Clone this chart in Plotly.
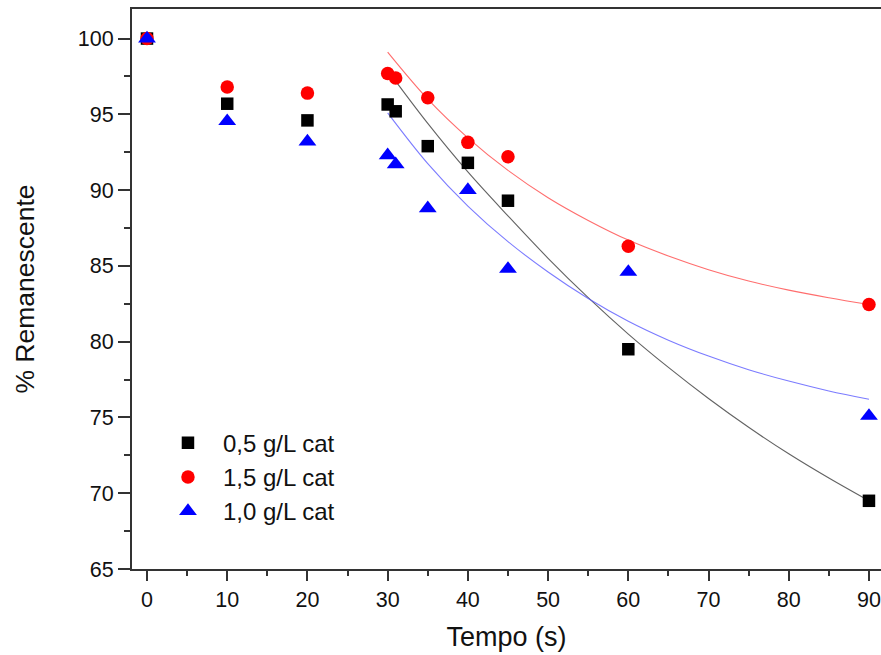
import plotly.graph_objects as go

# ---- data ----
tempo = [0, 10, 20, 30, 31, 35, 40, 45, 60, 90]
cat_05 = [100.0, 95.7, 94.6, 95.65, 95.2, 92.9, 91.8, 89.3, 79.5, 69.5]
cat_15 = [100.0, 96.8, 96.4, 97.7, 97.4, 96.1, 93.15, 92.2, 86.3, 82.45]
cat_10 = [100.0, 94.55, 93.2, 92.3, 91.7, 88.8, 90.0, 84.8, 84.6, 75.1]

# fitted decay curves (30..90 s)
fit_t = [30, 35, 40, 45, 50, 55, 60, 65, 70, 75, 80, 85, 90]
fit_05 = [97.9, 94.4, 91.2, 88.3, 85.5, 82.9, 80.5, 78.3, 76.25, 74.35, 72.6, 71.0, 69.5]
fit_15 = [99.1, 96.0, 93.45, 91.3, 89.5, 88.0, 86.7, 85.65, 84.75, 84.0, 83.4, 82.9, 82.45]
fit_10 = [95.1, 91.75, 88.95, 86.6, 84.6, 82.85, 81.35, 80.1, 79.05, 78.15, 77.4, 76.75, 76.2]

labels = ["0,5 g/L cat", "1,5 g/L cat", "1,0 g/L cat"]
FONT = "Liberation Sans, Arial, sans-serif"

fig = go.Figure()

# fit lines (behind markers)
fig.add_trace(go.Scatter(x=fit_t, y=fit_15, mode="lines", line=dict(color="rgba(255,60,60,0.75)", width=1.1, shape="spline"),
                         showlegend=False, hoverinfo="skip"))
fig.add_trace(go.Scatter(x=fit_t, y=fit_05, mode="lines", line=dict(color="rgba(70,70,70,0.85)", width=1.1, shape="spline"),
                         showlegend=False, hoverinfo="skip"))
fig.add_trace(go.Scatter(x=fit_t, y=fit_10, mode="lines", line=dict(color="rgba(90,90,255,0.8)", width=1.1, shape="spline"),
                         showlegend=False, hoverinfo="skip"))

# data markers
fig.add_trace(go.Scatter(x=tempo, y=cat_05, mode="markers", name=labels[0],
                         marker=dict(symbol="square", size=12.5, color="black")))
fig.add_trace(go.Scatter(x=tempo, y=cat_15, mode="markers", name=labels[1],
                         marker=dict(symbol="circle", size=13.5, color="#ff0000")))
fig.add_trace(go.Scatter(x=tempo, y=cat_10, mode="markers", name=labels[2],
                         marker=dict(symbol="triangle-up", size=15.5, color="#0000ff")))

fig.update_layout(
    width=881, height=655,
    margin=dict(l=132, r=0, t=9, b=86),
    paper_bgcolor="white", plot_bgcolor="white",
    font=dict(family=FONT, color="#111"),
    showlegend=True,
    legend=dict(x=0.028, y=0.265, xanchor="left", yanchor="top",
                bgcolor="rgba(0,0,0,0)", font=dict(size=24, family=FONT, color="#111"),
                itemwidth=60, tracegroupgap=0),
    xaxis=dict(range=[-1.87, 91.5], tickmode="array", tickvals=[0, 10, 20, 30, 40, 50, 60, 70, 80, 90],
               ticks="outside", ticklen=10, tickwidth=1.5, tickcolor="#333",
               minor=dict(dtick=5, tick0=5, ticks="outside", ticklen=5, tickwidth=1.5, tickcolor="#333"),
               showline=True, linecolor="#333", linewidth=2, mirror=True,
               showgrid=False, zeroline=False,
               tickfont=dict(size=21.5, family=FONT, color="#111"),
               title=dict(text="Tempo (s)", font=dict(size=27, family=FONT, color="#111"), standoff=16)),
    yaxis=dict(range=[65, 101.95], tickmode="array", tickvals=[65, 70, 75, 80, 85, 90, 95, 100],
               ticks="outside", ticklen=12, tickwidth=1.5, tickcolor="#333",
               minor=dict(dtick=2.5, tick0=65, ticks="outside", ticklen=6, tickwidth=1.5, tickcolor="#333"),
               showline=True, linecolor="#333", linewidth=2, mirror=False,
               showgrid=False, zeroline=False,
               tickfont=dict(size=21.5, family=FONT, color="#111"),
               title=dict(text="% Remanescente", font=dict(size=26.5, family=FONT, color="#111"), standoff=36)),
)

fig.write_html("out.html")
